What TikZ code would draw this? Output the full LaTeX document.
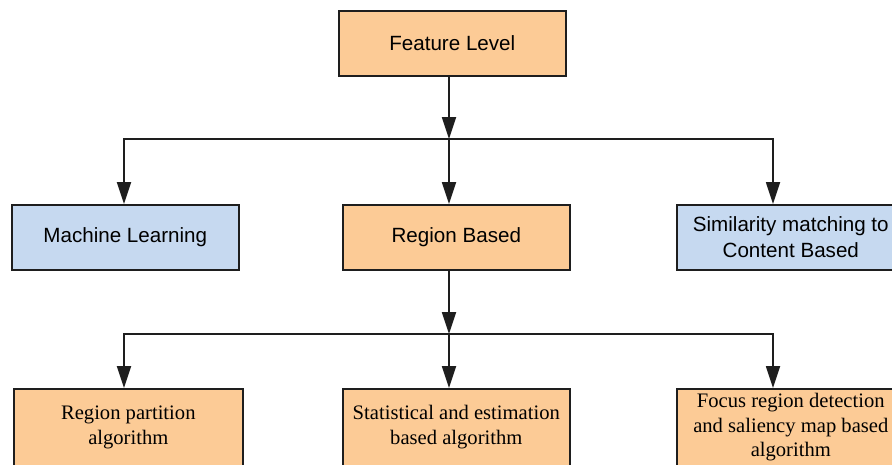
\documentclass[tikz,border=0pt]{standalone}
\usepackage{fontspec}
\setmainfont{Liberation Serif}
\setsansfont{Liberation Sans}
\usetikzlibrary{arrows.meta}
\definecolor{boxorange}{RGB}{252,203,150}
\definecolor{boxblue}{RGB}{198,217,240}
\definecolor{edge}{RGB}{30,30,30}
\begin{document}
\begin{tikzpicture}[x=1pt,y=-1pt,
  box/.style={draw=edge, line width=1.6pt, minimum width=227pt, minimum height=65pt,
    inner sep=0pt, align=center, text=black, anchor=north west},
  sansbox/.style={box, font=\sffamily\fontsize{20.6}{25.5}\selectfont},
  serifbox/.style={box, font=\rmfamily\fontsize{20.6}{24.5}\selectfont, minimum height=77pt},
  orangebox/.style={fill=boxorange},
  bluebox/.style={fill=boxblue},
  arr/.style={draw=edge, line width=1.8pt, -{Triangle[length=22pt,width=14pt]}},
  link/.style={draw=edge, line width=1.8pt, line cap=rect}]
\clip (0,0) rectangle (892,464);
\fill[white] (0,0) rectangle (892,464);

% boxes
\node[sansbox,orangebox] (top) at (338,10) {Feature Level};
\node[sansbox,bluebox] (ml) at (11,204) {Machine Learning};
\node[sansbox,orangebox] (rb) at (342,204) {Region Based};
\node[sansbox,bluebox,minimum width=228pt] (sim) at (676,204) {Similarity matching to\\Content Based};
\node[serifbox,orangebox,minimum width=229pt] (rp) at (13,388) {Region partition\\algorithm};
\node[serifbox,orangebox] (st) at (342,388) {Statistical and estimation\\based algorithm};
\node[serifbox,orangebox,minimum width=228pt] (fr) at (676,388) {Focus region detection\\and saliency map based\\algorithm};

% junction points of the two branching levels
\coordinate (j1) at (449,139);
\coordinate (j1l) at (124,139);
\coordinate (j1r) at (773,139);
\coordinate (j2) at (449,334);
\coordinate (j2l) at (124,334);
\coordinate (j2r) at (773,334);

% first level
\draw[arr] (top.south -| j1) -- (j1);
\draw[link] (j1l) -- (j1r);
\draw[link] (j1l) -- ++(0,2);
\draw[link] (j1r) -- ++(0,2);
\draw[arr] (j1l) -- (j1l |- ml.north);
\draw[arr] (j1) -- (j1 |- rb.north);
\draw[arr] (j1r) -- (j1r |- sim.north);

% second level
\draw[arr] (rb.south -| j2) -- (j2);
\draw[link] (j2l) -- (j2r);
\draw[link] (j2l) -- ++(0,2);
\draw[link] (j2r) -- ++(0,2);
\draw[arr] (j2l) -- (j2l |- rp.north);
\draw[arr] (j2) -- (j2 |- st.north);
\draw[arr] (j2r) -- (j2r |- fr.north);
\end{tikzpicture}
\end{document}
